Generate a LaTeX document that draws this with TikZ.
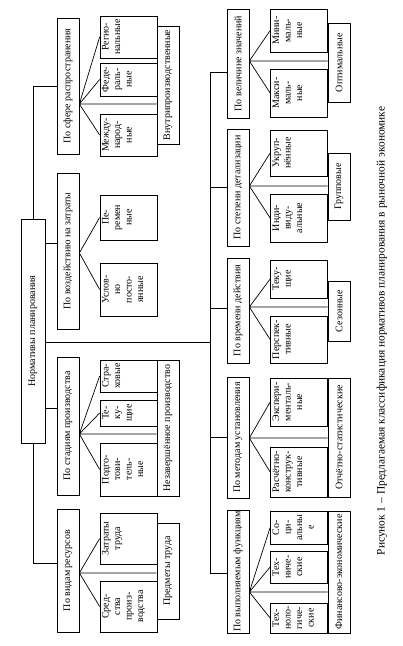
\documentclass[tikz,border=0pt]{standalone}
\usepackage{fontspec}
\setmainfont{Liberation Serif}
\newcommand\lvtxt[2]{\parbox[c][57pt][t]{#1}{\centering\vspace*{2pt}#2}}
\begin{document}
\begin{tikzpicture}[x=1pt,y=-1pt,
  every node/.style={font=\fontsize{10}{11.5}\selectfont, inner sep=0pt},
  lone/.style={draw, line width=0.7pt, rotate=90, minimum height=22pt},
  ltwo/.style={draw, line width=0.7pt, rotate=90},
  every path/.append style={line width=0.7pt}]
\useasboundingbox (0,0) rectangle (403,646);
\fill[white] (0,0) rectangle (403,646);

% root
\node[lone, minimum width=224pt, minimum height=24pt] (root) at (33,331) {Нормативы планирования};

% column 1, level 1
\node[lone, minimum width=136pt] (sfera) at (68,86) {По сфере распространения};
\node[lone, minimum width=156pt] (vozd) at (68,251) {По воздействию на затраты};
\node[lone, minimum width=138pt] (stad) at (68,426) {По стадиям производства};
\node[lone, minimum width=123pt] (vid) at (68,570.5) {По видам ресурсов};

% column 1, level 2
\node[ltwo] (regio) at (128.5,37) {\lvtxt{42pt}{Регио-\\нальные}};
\node[ltwo] (fed) at (128.5,79.5) {\lvtxt{33pt}{Феде-\\раль-\\ные}};
\node[ltwo] (mezh) at (128.5,135) {\lvtxt{42pt}{Между-\\народ-\\ные}};
\node[lone, minimum width=118pt] (vnutri) at (168,85) {Внутрипроизводственные};
\node[ltwo] (perem) at (128.5,217.5) {\lvtxt{45pt}{Пе-\\ремен\\ные}};
\node[ltwo] (uslov) at (128.5,289.5) {\lvtxt{53pt}{Услов-\\но\\посто-\\янные}};
\node[ltwo] (strah) at (128.5,376) {\lvtxt{32pt}{Стра-\\ховые}};
\node[ltwo] (tekA) at (128.5,413) {\lvtxt{26pt}{Те-\\ку-\\щие}};
\node[ltwo] (podg) at (128.5,469.5) {\lvtxt{53pt}{Подго-\\тови-\\тель-\\ные}};
\node[lone, minimum width=136pt] (nezav) at (168,428) {Незавершённое производство};
\node[ltwo] (zatr) at (128.5,538.5) {\lvtxt{51pt}{Затраты\\труда}};
\node[ltwo] (sred) at (128.5,606.5) {\lvtxt{51pt}{Сред-\\ства\\произ-\\водства}};
\node[lone, minimum width=96pt] (predm) at (168,571) {Предметы труда};

% column 2, level 1
\node[lone, minimum width=109pt] (velich) at (238,63.5) {По величине значений};
\node[lone, minimum width=117pt] (detal) at (238,187.5) {По степени детализации};
\node[lone, minimum width=105pt] (vrem) at (238,310.5) {По времени действия};
\node[lone, minimum width=121pt] (metod) at (238,437.5) {По методам установления};
\node[lone, minimum width=123pt] (funk) at (238,571.5) {По выполняемым функциям};

% column 2, level 2
\node[ltwo] (mini) at (299,30.5) {\lvtxt{43pt}{Мини-\\маль-\\ные}};
\node[ltwo] (maks) at (299,93) {\lvtxt{48pt}{Макси-\\маль-\\ные}};
\node[lone, minimum width=79pt] (optim) at (339,62.5) {Оптимальные};
\node[ltwo] (ukrup) at (299,153) {\lvtxt{46pt}{Укруп-\\нённые}};
\node[ltwo] (indiv) at (299,218) {\lvtxt{48pt}{Инди-\\виду-\\альные}};
\node[lone, minimum width=67pt] (grup) at (339,186.5) {Групповые};
\node[ltwo] (tekB) at (299,279) {\lvtxt{38pt}{Теку-\\щие}};
\node[ltwo] (persp) at (299,339.5) {\lvtxt{47pt}{Перспек-\\тивные}};
\node[lone, minimum width=60pt] (sezon) at (339,311) {Сезонные};
\node[ltwo] (eksp) at (299,402) {\lvtxt{48pt}{Экспери-\\менталь-\\ные}};
\node[ltwo] (rasch) at (299,472) {\lvtxt{50pt}{Расчётно-\\конструк-\\тивные}};
\node[lone, minimum width=119pt] (otch) at (339,437.5) {Отчётно-статистические};
\node[ltwo] (soc) at (299,527.5) {\lvtxt{33pt}{Со-\\ци-\\альны\\е}};
\node[ltwo] (tehn) at (299,567) {\lvtxt{32pt}{Тех-\\ниче-\\ские}};
\node[ltwo] (tehnol) at (299,618) {\lvtxt{30pt}{Тех-\\ноло-\\гиче-\\ские}};
\node[lone, minimum width=122pt] (fin) at (339,572) {Финансово-экономические};

% caption
\node[rotate=90, font=\fontsize{11.4}{14}\selectfont] (cap) at (382,331) {Рисунок 1 – Предлагаемая классификация нормативов планирования в рыночной экономике};

% connectors from root, column 1
\coordinate (cvid) at (57,563);
\draw (root.east) |- (sfera.north);
\draw (root.west) |- (cvid);
\draw (root.south |- 0,243) -- (vozd.north |- 0,243);
\draw (root.south |- 0,408) -- (stad.north |- 0,408);

% spine to column 2
\coordinate (spT) at (210,72);
\coordinate (spB) at (210,573);
\coordinate (spM) at (210,342);
\draw (root.south |- spM) -- (spM);
\draw (velich.north |- spT) -- (spT) -- (spB) -- (funk.north |- spB);
\draw (spM |- 0,187) -- (detal.north |- 0,187);
\draw (spM |- 0,308) -- (vrem.north |- 0,308);
\draw (spM |- 0,437) -- (metod.north |- 0,437);

% fans column 1
\coordinate (fa) at (sfera.south |- 0,104);
\draw (fa) -- (regio.north) (fa) -- (fed.north) (fa) -- (mezh.north) (fa) -- (fa -| vnutri.north);
\coordinate (fb) at (vozd.south |- 0,253);
\draw (fb) -- (perem.north) (fb) -- (uslov.north);
\coordinate (fc) at (stad.south |- 0,434);
\draw (fc) -- (strah.north) (fc) -- (tekA.north) (fc) -- (podg.north) (fc) -- (fc -| nezav.north);
\coordinate (fd) at (vid.south |- 0,573);
\draw (fd) -- (zatr.north) (fd) -- (sred.north) (fd) -- (fd -| predm.north);

% fans column 2
\coordinate (fe) at (velich.south |- 0,61);
\draw (fe) -- (mini.north) (fe) -- (maks.north) (fe) -- (fe -| optim.north);
\coordinate (ff) at (detal.south |- 0,186);
\draw (ff) -- (ukrup.north) (ff) -- (indiv.north) (ff) -- (ff -| grup.north);
\coordinate (fg) at (vrem.south |- 0,307);
\draw (fg) -- (tekB.north) (fg) -- (persp.north) (fg) -- (fg -| sezon.north);
\coordinate (fh) at (metod.south |- 0,438);
\draw (fh) -- (eksp.north) (fh) -- (rasch.north) (fh) -- (fh -| otch.north);
\coordinate (fi) at (funk.south |- 0,592);
\draw (fi) -- (soc.north) (fi) -- (tehn.north) (fi) -- (tehnol.north) (fi) -- (fi -| fin.north);
\end{tikzpicture}
\end{document}
